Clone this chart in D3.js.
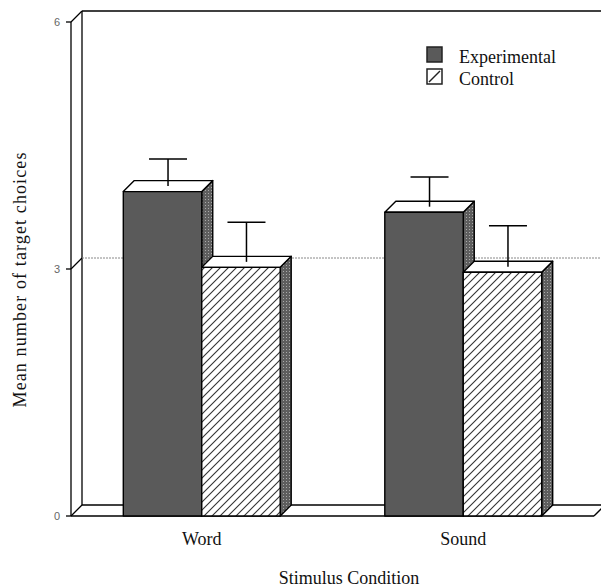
<!DOCTYPE html>
<html>
<head>
<meta charset="utf-8">
<script src="https://cdn.jsdelivr.net/npm/d3@7"></script>
<style>
html,body{margin:0;padding:0;background:#fff;}
svg{display:block;}
</style>
</head>
<body>
<svg id="chart" width="601" height="588"></svg>
<script>
const categories = ["Word", "Sound"];
const series = ["Experimental", "Control"];
const experimental = [3.94, 3.69];
const control = [3.02, 2.96];
const experimentalErr = [0.33, 0.36];
const controlErr = [0.48, 0.50];
const yTicks = [0, 3, 6];
const xTitle = "Stimulus Condition";
const yTitle = "Mean number of target choices";

const svg = d3.select("#chart");
const depth = 11;
const left = 71, right = 594;

const y = d3.scaleLinear().domain([0, 6]).range([516, 22]);
const x = d3.scaleBand().domain(categories).range([left, right]).paddingInner(0.4).paddingOuter(0.2);
const xs = d3.scaleBand().domain(series).range([0, x.bandwidth()]);

const defs = svg.append("defs");
const hatch = defs.append("pattern").attr("id", "hatch").attr("patternUnits", "userSpaceOnUse")
  .attr("width", 8).attr("height", 8);
hatch.append("rect").attr("width", 8).attr("height", 8).attr("fill", "#fff");
hatch.append("path").attr("d", "M-2,2 L2,-2 M0,8 L8,0 M6,10 L10,6")
  .attr("stroke", "#333").attr("stroke-width", 1.1);
const stip = defs.append("pattern").attr("id", "stip").attr("patternUnits", "userSpaceOnUse")
  .attr("width", 3).attr("height", 3);
stip.append("rect").attr("width", 3).attr("height", 3).attr("fill", "#5e5e5e");
stip.append("rect").attr("x", 1).attr("y", 1).attr("width", 1).attr("height", 1).attr("fill", "#aaa");

const y0 = y(0);
const yTop = y(6);
const farRight = right + depth + 10;

// back wall & floor
const frame = svg.append("g").attr("fill", "none").attr("stroke", "#000").attr("stroke-width", 1.3);
frame.append("line").attr("x1", left + depth).attr("y1", yTop - depth).attr("x2", left + depth).attr("y2", y0 - depth);
frame.append("line").attr("x1", left + depth).attr("y1", yTop - depth).attr("x2", farRight).attr("y2", yTop - depth);
frame.append("line").attr("x1", left + depth).attr("y1", y0 - depth).attr("x2", right + depth).attr("y2", y0 - depth);
frame.append("line").attr("x1", left).attr("y1", y0).attr("x2", right).attr("y2", y0);
frame.append("line").attr("x1", right).attr("y1", y0).attr("x2", right + depth).attr("y2", y0 - depth);
frame.append("line").attr("x1", left).attr("y1", yTop).attr("x2", left).attr("y2", y0);

// gridlines on back wall
yTicks.filter(t => t > 0 && t < 6).forEach(t => {
  svg.append("line").attr("x1", left + depth).attr("x2", farRight)
    .attr("y1", y(t) - depth).attr("y2", y(t) - depth)
    .attr("stroke", "#888").attr("stroke-width", 1).attr("stroke-dasharray", "2,1");
});

// ticks: short mark + diagonal to back wall
yTicks.forEach(t => {
  frame.append("line").attr("x1", left - 5).attr("x2", left).attr("y1", y(t)).attr("y2", y(t));
  frame.append("line").attr("x1", left).attr("y1", y(t)).attr("x2", left + depth).attr("y2", y(t) - depth);
});
svg.append("g").selectAll("text").data(yTicks).join("text")
  .attr("x", left - 11).attr("y", d => y(d) + 4)
  .attr("text-anchor", "end").attr("font-family", "Liberation Sans, Arial, sans-serif")
  .attr("font-size", 11).attr("fill", "#666").text(d => d);

// bars
const bars = [];
categories.forEach((c, i) => {
  bars.push({cat: c, ser: "Experimental", v: experimental[i], e: experimentalErr[i]});
  bars.push({cat: c, ser: "Control", v: control[i], e: controlErr[i]});
});
const bg = svg.append("g").attr("stroke", "#000").attr("stroke-width", 1.4).attr("stroke-linejoin", "round");
bars.forEach(b => {
  const x0 = x(b.cat) + xs(b.ser), x1 = x0 + xs.bandwidth();
  const yt = y(b.v);
  const g = bg.append("g");
  g.append("path").attr("d", `M${x1},${yt}L${x1 + depth},${yt - depth}L${x1 + depth},${y0 - depth}L${x1},${y0}Z`)
    .attr("fill", "url(#stip)");
  g.append("path").attr("d", `M${x0},${yt}L${x0 + depth},${yt - depth}L${x1 + depth},${yt - depth}L${x1},${yt}Z`)
    .attr("fill", "#fff");
  g.append("rect").attr("x", x0).attr("y", yt).attr("width", x1 - x0).attr("height", y0 - yt)
    .attr("fill", b.ser === "Experimental" ? "#5a5a5a" : "url(#hatch)");
  // error bar at mid-depth
  const cx = (x0 + x1) / 2 + depth / 2;
  const ys = y(b.v) - depth / 2, ye = y(b.v + b.e) - depth / 2;
  g.append("line").attr("x1", cx).attr("x2", cx).attr("y1", ys).attr("y2", ye).attr("stroke-width", 1.5);
  g.append("line").attr("x1", cx - 19).attr("x2", cx + 19).attr("y1", ye).attr("y2", ye).attr("stroke-width", 1.5);
});

// category labels
svg.append("g").selectAll("text").data(categories).join("text")
  .attr("x", d => x(d) + x.bandwidth() / 2).attr("y", 545)
  .attr("text-anchor", "middle").attr("font-family", "Liberation Serif, Times New Roman, serif")
  .attr("font-size", 18).attr("fill", "#111").text(d => d);

// axis titles
svg.append("text").attr("x", 349).attr("y", 584).attr("text-anchor", "middle")
  .attr("font-family", "Liberation Serif, Times New Roman, serif").attr("font-size", 18).attr("fill", "#111")
  .text(xTitle);
svg.append("text").attr("transform", "translate(26,280) rotate(-90)").attr("text-anchor", "middle")
  .attr("font-family", "Liberation Serif, Times New Roman, serif").attr("font-size", 18).attr("fill", "#111")
  .attr("textLength", 255).attr("lengthAdjust", "spacing")
  .text(yTitle);

// legend
const leg = svg.append("g").attr("transform", "translate(427,47)");
series.forEach((s, i) => {
  const g = leg.append("g").attr("transform", `translate(0,${i * 22})`);
  g.append("rect").attr("width", 15).attr("height", 15).attr("stroke", "#222").attr("stroke-width", 1.5)
    .attr("fill", s === "Experimental" ? "#5a5a5a" : "#fff");
  if (s === "Control") g.append("line").attr("x1", 2).attr("y1", 13).attr("x2", 13).attr("y2", 2)
    .attr("stroke", "#222").attr("stroke-width", 1.5);
  g.append("text").attr("x", 32).attr("y", 15.5).attr("font-family", "Liberation Serif, Times New Roman, serif")
    .attr("font-size", 18).attr("fill", "#111").text(s);
});
</script>
</body>
</html>
